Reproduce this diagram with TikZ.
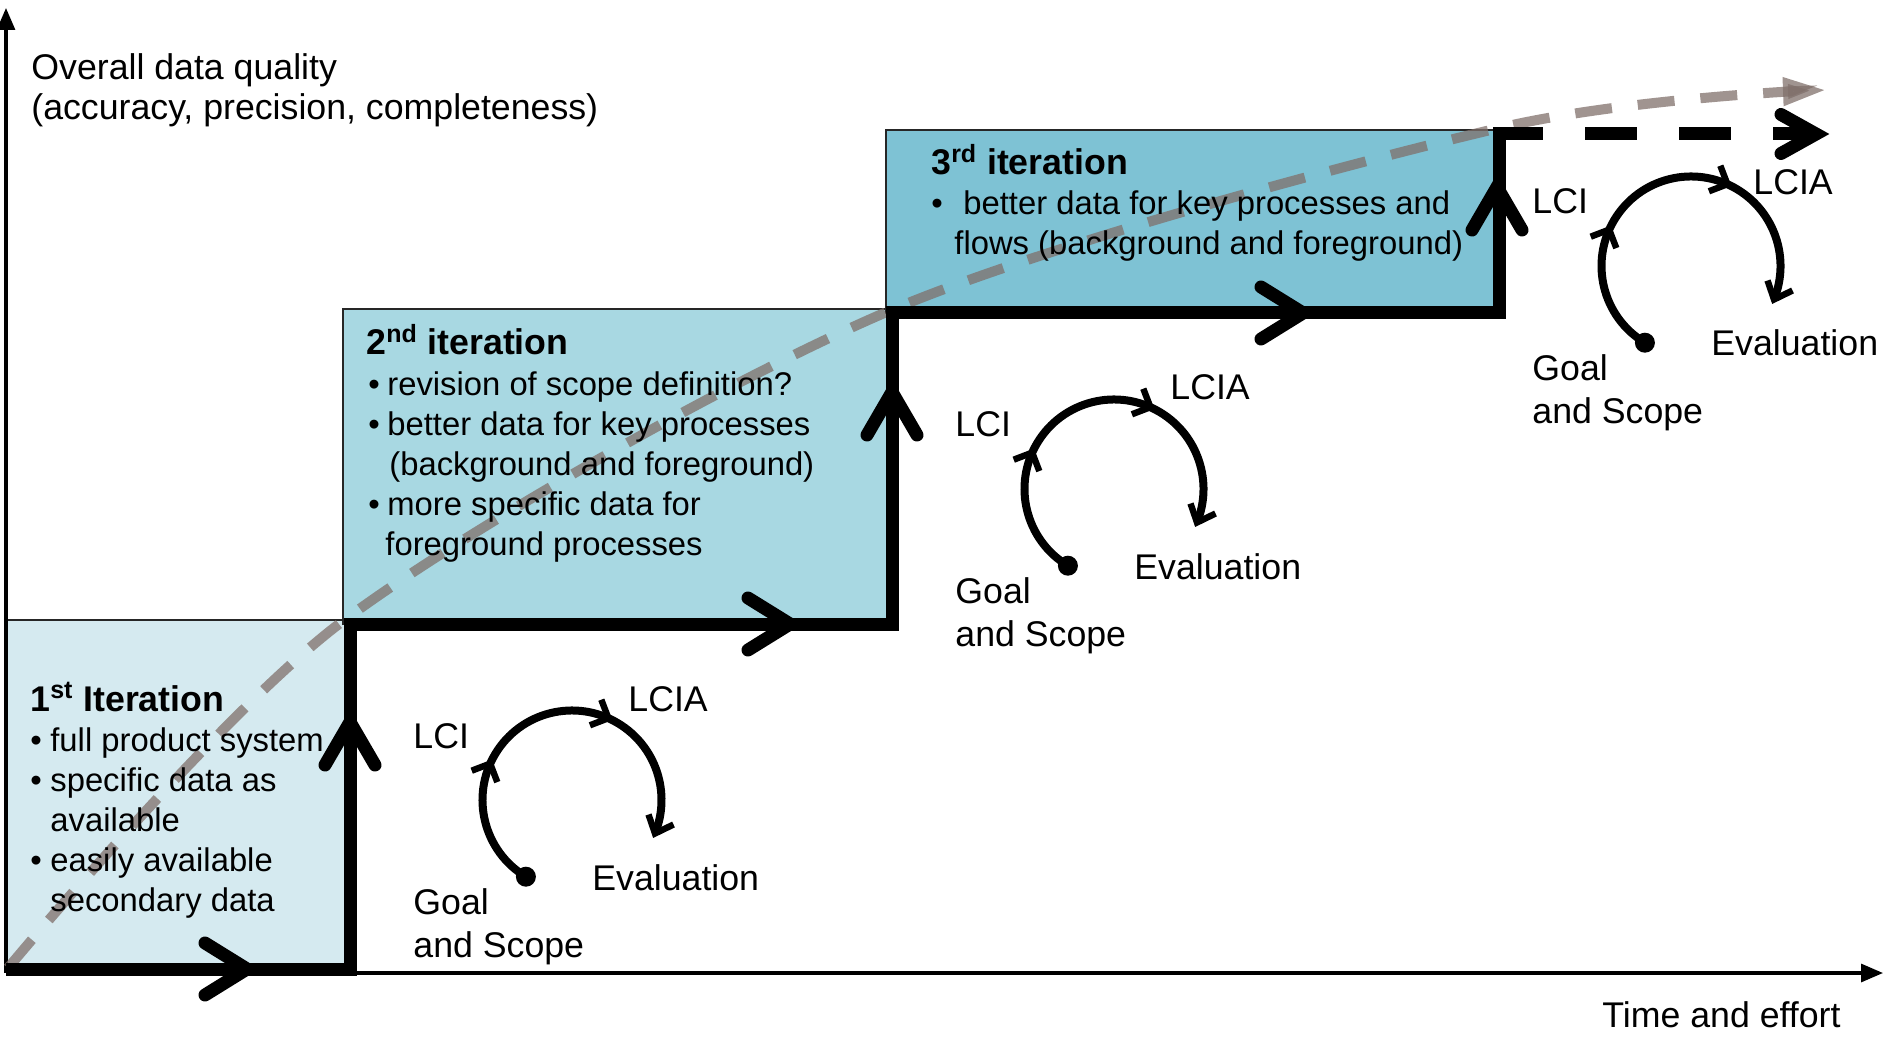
\documentclass[tikz,border=0pt]{standalone}
\usepackage{fontspec}
\setmainfont{Liberation Sans}
\usetikzlibrary{arrows.meta}
\definecolor{boxa}{HTML}{D5EAF0}
\definecolor{boxb}{HTML}{A8D8E2}
\definecolor{boxc}{HTML}{7EC2D4}
\definecolor{trend}{HTML}{80706B}
\begin{document}
\begin{tikzpicture}[x=0.5pt,y=-0.5pt,
  txt/.style={anchor=base west,inner sep=0pt,font=\fontsize{17.85pt}{20pt}\selectfont},
  body/.style={anchor=base west,inner sep=0pt,font=\fontsize{16.4pt}{20pt}\selectfont},
  head/.style={anchor=base west,inner sep=0pt,font=\fontsize{17.85pt}{20pt}\selectfont\bfseries},
  boxline/.style={draw=black!85,line width=1pt},
  axis/.style={line width=1.6pt,-{Triangle[length=11pt,width=9pt]}},
  stair/.style={line width=6.5pt,line cap=rect,line join=miter},
  chev/.style={line width=6.5pt,line cap=round,line join=miter},
  trendline/.style={draw=trend,opacity=0.75,line width=5pt,dash pattern=on 18.5pt off 13pt,
    -{Triangle[length=22pt,width=13pt,fill=trend]}},
  cyclearc/.style={line width=4pt},
  barb/.style={line width=3.2pt,line join=miter,line cap=butt},
  dotnode/.style={circle,fill=black,inner sep=0pt,minimum size=10pt},
  chevr/.pic={\draw[chev] (-42,-26) -- (0,0) -- (-42,26);},
  chevu/.pic={\draw[chev] (-25,43) -- (0,0) -- (25,43);},
  lcacyc/.pic={
    \node[dotnode] (-dot) at (-46.1,76.7) {};
    \coordinate (-end) at (83.0,33.5);
    \coordinate (-m1) at (-81.8,-36.4);
    \coordinate (-m2) at (36.4,-81.8);
    \draw[cyclearc] (-dot.center) arc[start angle=121,end angle=382,radius=89.5];
    \draw[barb] (-100.3,-29.3) -- (-m1) -- (-74.7,-17.9);
    \draw[barb] (29.3,-100.3) -- (-m2) -- (17.9,-74.7);
    \draw[barb] (101.5,24.5) -- (-end) -- (76.5,14.5);
    \node[txt] (-lci) at (-159,-52) {LCI};
    \node[txt] (-eval) at (20,90) {Evaluation};
    \node[txt] (-goal) at (-159,114) {Goal};
    \node[txt] (-scope) at (-159,157) {and Scope};
  }]
\useasboundingbox (0,0) rectangle (1883,1037);

% boxes
\draw[boxline,fill=boxa] (5,620) rectangle (350,969);
\draw[boxline,fill=boxb] (343,309) rectangle (892,624);
\draw[boxline,fill=boxc] (886,130) rectangle (1499,313);

% axes
\coordinate (o) at (6,973);
\coordinate (ytip) at (6,8);
\coordinate (xtip) at (1883,973);
\draw[axis] (o) -- (ytip);
\draw[axis] (o) -- (xtip);

% trend curve
\draw[trendline] plot[smooth,tension=0.5] coordinates {(8,968) (343,621) (889,311) (1499,128) (1827,90)};

% staircase
\coordinate (s0) at (12,969);
\coordinate (s1) at (350,969);
\coordinate (s2) at (350,624);
\coordinate (s3) at (892,624);
\coordinate (s4) at (892,313);
\coordinate (s5) at (1499,313);
\coordinate (s6) at (1499,134);
\coordinate (s7) at (1812,134);
\coordinate (s8) at (1816,134);
\draw[stair] (s0) -- (s1) -- (s2) -- (s3) -- (s4) -- (s5) -- (s6);
\draw[line width=6.5pt,dash pattern=on 26pt off 21pt,dash phase=4pt] (s6) -- (s7);
\draw[chev] (1781,114.5) -- (s8) -- (1781,153.5);

\pic at (247,969) {chevr};
\pic at (350,722) {chevu};
\pic at (790,624) {chevr};
\pic at (892,392) {chevu};
\pic at (1303,313) {chevr};
\pic at (1497,187) {chevu};

% axis labels
\node[txt] (ylab1) at (31,80) {Overall data quality};
\node[txt] (ylab2) at (31,120) {(accuracy, precision, completeness)};
\node[txt] (xlab) at (1602,1027) {Time and effort};

% box 1 text
\node[head] (t1) at (30,711) {1\textsuperscript{st} Iteration};
\node[body] (b11) at (30,751) {\makebox[10pt][l]{•}full product system};
\node[body] (b12) at (30,791) {\makebox[10pt][l]{•}specific data as};
\node[body] (b13) at (50,831) {available};
\node[body] (b14) at (30,871) {\makebox[10pt][l]{•}easily available};
\node[body] (b15) at (50,911) {secondary data};

% box 2 text
\node[head] (t2) at (366,355) {2\textsuperscript{nd} iteration};
\node[body] (b21) at (368,395) {\makebox[9.5pt][l]{•}revision of scope definition?};
\node[body] (b22) at (368,435) {\makebox[9.5pt][l]{•}better data for key processes};
\node[body] (b23) at (389,475) {(background and foreground)};
\node[body] (b24) at (368,515) {\makebox[9.5pt][l]{•}more specific data for};
\node[body] (b25) at (385,555) {foreground processes};

% box 3 text
\node[head] (t3) at (931,175) {3\textsuperscript{rd} iteration};
\node[body] (b31) at (931,215) {\makebox[16pt][l]{•}better data for key processes and};
\node[body] (b32) at (954,255) {flows (background and foreground)};

% LCA cycles
\pic (cyc1) at (572,800) {lcacyc};
\pic (cyc2) at (1114,489) {lcacyc};
\pic (cyc3) at (1691,266) {lcacyc};
\node[txt] (lcia1) at (628,711) {LCIA};
\node[txt] (lcia2) at (1170,400) {LCIA};
\node[txt] (lcia3) at (1753,195) {LCIA};
\end{tikzpicture}
\end{document}
